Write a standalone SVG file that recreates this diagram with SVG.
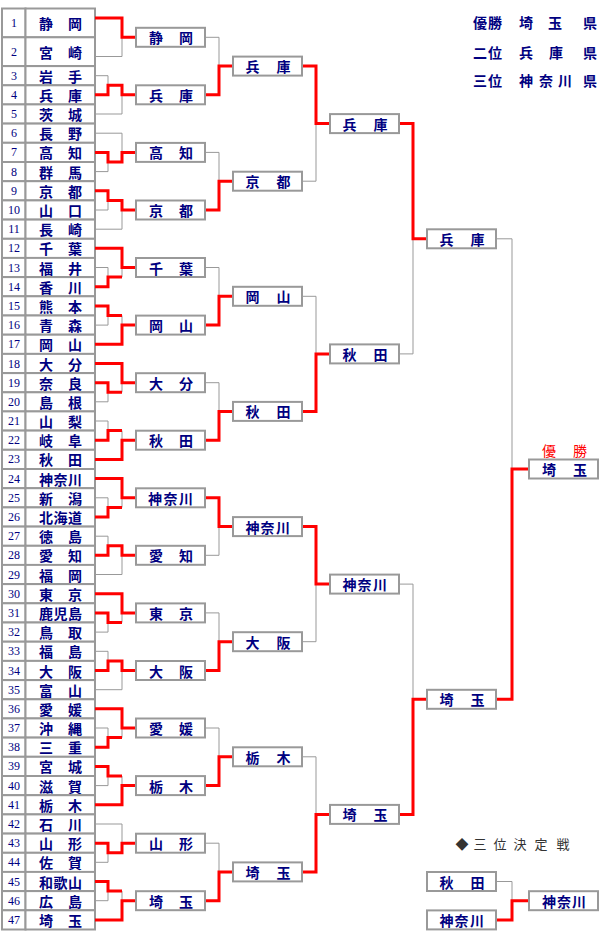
<svg xmlns="http://www.w3.org/2000/svg" width="600" height="940" viewBox="0 0 600 940">
<style>
.c{fill:#fff;stroke:#999;stroke-width:2}
.b{fill:#fff;stroke:#999;stroke-width:2}
.n{font-family:"Liberation Serif",serif;font-size:12px;fill:#000080;text-anchor:middle;dominant-baseline:central}
.j{font-family:"Noto Sans CJK JP",sans-serif;font-size:14px;font-weight:bold;fill:#000080;text-anchor:middle;dominant-baseline:central}
.w{font-family:"Noto Sans CJK JP",sans-serif;font-size:14px;fill:#ff0000;text-anchor:middle;dominant-baseline:central}
.h{font-family:"Noto Sans CJK JP",sans-serif;font-size:13px;fill:#333;text-anchor:middle;dominant-baseline:central}
.g{fill:none;stroke:#999;stroke-width:1}
.r{fill:none;stroke:#f00;stroke-width:3;stroke-linejoin:miter}
</style>
<rect width="600" height="940" fill="#fff"/>
<g id="table">
<g id="t1"><rect class="c" x="2" y="8.5" width="23.5" height="28.8"/><rect class="c" x="25.5" y="8.5" width="69.5" height="28.8"/><text class="n" x="14" y="22.9">1</text><text class="j" x="46 75" y="22.9">静岡</text></g>
<g id="t2"><rect class="c" x="2" y="37.3" width="23.5" height="28.8"/><rect class="c" x="25.5" y="37.3" width="69.5" height="28.8"/><text class="n" x="14" y="51.7">2</text><text class="j" x="46 75" y="51.7">宮崎</text></g>
<g id="t3"><rect class="c" x="2" y="66.1" width="23.5" height="19.2"/><rect class="c" x="25.5" y="66.1" width="69.5" height="19.2"/><text class="n" x="14" y="75.7">3</text><text class="j" x="46 75" y="75.7">岩手</text></g>
<g id="t4"><rect class="c" x="2" y="85.3" width="23.5" height="19.2"/><rect class="c" x="25.5" y="85.3" width="69.5" height="19.2"/><text class="n" x="14" y="94.8">4</text><text class="j" x="46 75" y="94.8">兵庫</text></g>
<g id="t5"><rect class="c" x="2" y="104.4" width="23.5" height="19.2"/><rect class="c" x="25.5" y="104.4" width="69.5" height="19.2"/><text class="n" x="14" y="114">5</text><text class="j" x="46 75" y="114">茨城</text></g>
<g id="t6"><rect class="c" x="2" y="123.6" width="23.5" height="19.2"/><rect class="c" x="25.5" y="123.6" width="69.5" height="19.2"/><text class="n" x="14" y="133.2">6</text><text class="j" x="46 75" y="133.2">長野</text></g>
<g id="t7"><rect class="c" x="2" y="142.8" width="23.5" height="19.2"/><rect class="c" x="25.5" y="142.8" width="69.5" height="19.2"/><text class="n" x="14" y="152.4">7</text><text class="j" x="46 75" y="152.4">高知</text></g>
<g id="t8"><rect class="c" x="2" y="162" width="23.5" height="19.2"/><rect class="c" x="25.5" y="162" width="69.5" height="19.2"/><text class="n" x="14" y="171.6">8</text><text class="j" x="46 75" y="171.6">群馬</text></g>
<g id="t9"><rect class="c" x="2" y="181.2" width="23.5" height="19.2"/><rect class="c" x="25.5" y="181.2" width="69.5" height="19.2"/><text class="n" x="14" y="190.8">9</text><text class="j" x="46 75" y="190.8">京都</text></g>
<g id="t10"><rect class="c" x="2" y="200.4" width="23.5" height="19.2"/><rect class="c" x="25.5" y="200.4" width="69.5" height="19.2"/><text class="n" x="14" y="210">10</text><text class="j" x="46 75" y="210">山口</text></g>
<g id="t11"><rect class="c" x="2" y="219.6" width="23.5" height="19.2"/><rect class="c" x="25.5" y="219.6" width="69.5" height="19.2"/><text class="n" x="14" y="229.2">11</text><text class="j" x="46 75" y="229.2">長崎</text></g>
<g id="t12"><rect class="c" x="2" y="238.8" width="23.5" height="19.2"/><rect class="c" x="25.5" y="238.8" width="69.5" height="19.2"/><text class="n" x="14" y="248.3">12</text><text class="j" x="46 75" y="248.3">千葉</text></g>
<g id="t13"><rect class="c" x="2" y="257.9" width="23.5" height="19.2"/><rect class="c" x="25.5" y="257.9" width="69.5" height="19.2"/><text class="n" x="14" y="267.5">13</text><text class="j" x="46 75" y="267.5">福井</text></g>
<g id="t14"><rect class="c" x="2" y="277.1" width="23.5" height="19.2"/><rect class="c" x="25.5" y="277.1" width="69.5" height="19.2"/><text class="n" x="14" y="286.7">14</text><text class="j" x="46 75" y="286.7">香川</text></g>
<g id="t15"><rect class="c" x="2" y="296.3" width="23.5" height="19.2"/><rect class="c" x="25.5" y="296.3" width="69.5" height="19.2"/><text class="n" x="14" y="305.9">15</text><text class="j" x="46 75" y="305.9">熊本</text></g>
<g id="t16"><rect class="c" x="2" y="315.5" width="23.5" height="19.2"/><rect class="c" x="25.5" y="315.5" width="69.5" height="19.2"/><text class="n" x="14" y="325.1">16</text><text class="j" x="46 75" y="325.1">青森</text></g>
<g id="t17"><rect class="c" x="2" y="334.7" width="23.5" height="19.2"/><rect class="c" x="25.5" y="334.7" width="69.5" height="19.2"/><text class="n" x="14" y="344.3">17</text><text class="j" x="46 75" y="344.3">岡山</text></g>
<g id="t18"><rect class="c" x="2" y="353.9" width="23.5" height="19.2"/><rect class="c" x="25.5" y="353.9" width="69.5" height="19.2"/><text class="n" x="14" y="363.5">18</text><text class="j" x="46 75" y="363.5">大分</text></g>
<g id="t19"><rect class="c" x="2" y="373.1" width="23.5" height="19.2"/><rect class="c" x="25.5" y="373.1" width="69.5" height="19.2"/><text class="n" x="14" y="382.7">19</text><text class="j" x="46 75" y="382.7">奈良</text></g>
<g id="t20"><rect class="c" x="2" y="392.3" width="23.5" height="19.2"/><rect class="c" x="25.5" y="392.3" width="69.5" height="19.2"/><text class="n" x="14" y="401.8">20</text><text class="j" x="46 75" y="401.8">島根</text></g>
<g id="t21"><rect class="c" x="2" y="411.4" width="23.5" height="19.2"/><rect class="c" x="25.5" y="411.4" width="69.5" height="19.2"/><text class="n" x="14" y="421">21</text><text class="j" x="46 75" y="421">山梨</text></g>
<g id="t22"><rect class="c" x="2" y="430.6" width="23.5" height="19.2"/><rect class="c" x="25.5" y="430.6" width="69.5" height="19.2"/><text class="n" x="14" y="440.2">22</text><text class="j" x="46 75" y="440.2">岐阜</text></g>
<g id="t23"><rect class="c" x="2" y="449.8" width="23.5" height="19.2"/><rect class="c" x="25.5" y="449.8" width="69.5" height="19.2"/><text class="n" x="14" y="459.4">23</text><text class="j" x="46 75" y="459.4">秋田</text></g>
<g id="t24"><rect class="c" x="2" y="469" width="23.5" height="19.2"/><rect class="c" x="25.5" y="469" width="69.5" height="19.2"/><text class="n" x="14" y="478.6">24</text><text class="j" x="46 60.5 75" y="478.6">神奈川</text></g>
<g id="t25"><rect class="c" x="2" y="488.2" width="23.5" height="19.2"/><rect class="c" x="25.5" y="488.2" width="69.5" height="19.2"/><text class="n" x="14" y="497.8">25</text><text class="j" x="46 75" y="497.8">新潟</text></g>
<g id="t26"><rect class="c" x="2" y="507.4" width="23.5" height="19.2"/><rect class="c" x="25.5" y="507.4" width="69.5" height="19.2"/><text class="n" x="14" y="517">26</text><text class="j" x="46 60.5 75" y="517">北海道</text></g>
<g id="t27"><rect class="c" x="2" y="526.6" width="23.5" height="19.2"/><rect class="c" x="25.5" y="526.6" width="69.5" height="19.2"/><text class="n" x="14" y="536.2">27</text><text class="j" x="46 75" y="536.2">徳島</text></g>
<g id="t28"><rect class="c" x="2" y="545.8" width="23.5" height="19.2"/><rect class="c" x="25.5" y="545.8" width="69.5" height="19.2"/><text class="n" x="14" y="555.3">28</text><text class="j" x="46 75" y="555.3">愛知</text></g>
<g id="t29"><rect class="c" x="2" y="564.9" width="23.5" height="19.2"/><rect class="c" x="25.5" y="564.9" width="69.5" height="19.2"/><text class="n" x="14" y="574.5">29</text><text class="j" x="46 75" y="574.5">福岡</text></g>
<g id="t30"><rect class="c" x="2" y="584.1" width="23.5" height="19.2"/><rect class="c" x="25.5" y="584.1" width="69.5" height="19.2"/><text class="n" x="14" y="593.7">30</text><text class="j" x="46 75" y="593.7">東京</text></g>
<g id="t31"><rect class="c" x="2" y="603.3" width="23.5" height="19.2"/><rect class="c" x="25.5" y="603.3" width="69.5" height="19.2"/><text class="n" x="14" y="612.9">31</text><text class="j" x="46 60.5 75" y="612.9">鹿児島</text></g>
<g id="t32"><rect class="c" x="2" y="622.5" width="23.5" height="19.2"/><rect class="c" x="25.5" y="622.5" width="69.5" height="19.2"/><text class="n" x="14" y="632.1">32</text><text class="j" x="46 75" y="632.1">鳥取</text></g>
<g id="t33"><rect class="c" x="2" y="641.7" width="23.5" height="19.2"/><rect class="c" x="25.5" y="641.7" width="69.5" height="19.2"/><text class="n" x="14" y="651.3">33</text><text class="j" x="46 75" y="651.3">福島</text></g>
<g id="t34"><rect class="c" x="2" y="660.9" width="23.5" height="19.2"/><rect class="c" x="25.5" y="660.9" width="69.5" height="19.2"/><text class="n" x="14" y="670.5">34</text><text class="j" x="46 75" y="670.5">大阪</text></g>
<g id="t35"><rect class="c" x="2" y="680.1" width="23.5" height="19.2"/><rect class="c" x="25.5" y="680.1" width="69.5" height="19.2"/><text class="n" x="14" y="689.7">35</text><text class="j" x="46 75" y="689.7">富山</text></g>
<g id="t36"><rect class="c" x="2" y="699.3" width="23.5" height="19.2"/><rect class="c" x="25.5" y="699.3" width="69.5" height="19.2"/><text class="n" x="14" y="708.8">36</text><text class="j" x="46 75" y="708.8">愛媛</text></g>
<g id="t37"><rect class="c" x="2" y="718.4" width="23.5" height="19.2"/><rect class="c" x="25.5" y="718.4" width="69.5" height="19.2"/><text class="n" x="14" y="728">37</text><text class="j" x="46 75" y="728">沖縄</text></g>
<g id="t38"><rect class="c" x="2" y="737.6" width="23.5" height="19.2"/><rect class="c" x="25.5" y="737.6" width="69.5" height="19.2"/><text class="n" x="14" y="747.2">38</text><text class="j" x="46 75" y="747.2">三重</text></g>
<g id="t39"><rect class="c" x="2" y="756.8" width="23.5" height="19.2"/><rect class="c" x="25.5" y="756.8" width="69.5" height="19.2"/><text class="n" x="14" y="766.4">39</text><text class="j" x="46 75" y="766.4">宮城</text></g>
<g id="t40"><rect class="c" x="2" y="776" width="23.5" height="19.2"/><rect class="c" x="25.5" y="776" width="69.5" height="19.2"/><text class="n" x="14" y="785.6">40</text><text class="j" x="46 75" y="785.6">滋賀</text></g>
<g id="t41"><rect class="c" x="2" y="795.2" width="23.5" height="19.2"/><rect class="c" x="25.5" y="795.2" width="69.5" height="19.2"/><text class="n" x="14" y="804.8">41</text><text class="j" x="46 75" y="804.8">栃木</text></g>
<g id="t42"><rect class="c" x="2" y="814.4" width="23.5" height="19.2"/><rect class="c" x="25.5" y="814.4" width="69.5" height="19.2"/><text class="n" x="14" y="824">42</text><text class="j" x="46 75" y="824">石川</text></g>
<g id="t43"><rect class="c" x="2" y="833.6" width="23.5" height="19.2"/><rect class="c" x="25.5" y="833.6" width="69.5" height="19.2"/><text class="n" x="14" y="843.2">43</text><text class="j" x="46 75" y="843.2">山形</text></g>
<g id="t44"><rect class="c" x="2" y="852.8" width="23.5" height="19.2"/><rect class="c" x="25.5" y="852.8" width="69.5" height="19.2"/><text class="n" x="14" y="862.3">44</text><text class="j" x="46 75" y="862.3">佐賀</text></g>
<g id="t45"><rect class="c" x="2" y="871.9" width="23.5" height="19.2"/><rect class="c" x="25.5" y="871.9" width="69.5" height="19.2"/><text class="n" x="14" y="881.5">45</text><text class="j" x="46 60.5 75" y="881.5">和歌山</text></g>
<g id="t46"><rect class="c" x="2" y="891.1" width="23.5" height="19.2"/><rect class="c" x="25.5" y="891.1" width="69.5" height="19.2"/><text class="n" x="14" y="900.7">46</text><text class="j" x="46 75" y="900.7">広島</text></g>
<g id="t47"><rect class="c" x="2" y="910.3" width="23.5" height="19.2"/><rect class="c" x="25.5" y="910.3" width="69.5" height="19.2"/><text class="n" x="14" y="919.9">47</text><text class="j" x="46 75" y="919.9">埼玉</text></g>
</g>
<g id="connectors">
<path class="g" d="M95,56.5H122V37.3 M95,75.7H108V85.3 M95,114H122V94.8 M95,171.6H108V162 M95,133.2H122V152.4 M95,210H108V200.4 M95,229.2H122V210 M95,267.5H108V277.1 M122,277.1V267.5 M95,325.1H108V315.5 M122,315.5V325.1 M95,401.8H108V392.3 M122,392.3V382.7 M95,421H108V430.6 M122,430.6V440.2 M95,497.8H108V507.4 M122,507.4V497.8 M95,536.2H108V545.8 M95,574.5H122V555.3 M95,632.1H108V622.5 M122,622.5V612.9 M95,651.3H108V660.9 M95,689.7H122V670.5 M95,728H108V737.6 M122,737.6V728 M95,785.6H108V776 M122,776V785.6 M95,862.3H108V852.8 M95,824H122V843.2 M95,900.7H108V891.1 M122,891.1V900.7"/>
<path class="g" d="M205,37.3H219V66.1 M205,152.4H219V181.2 M205,267.5H219V296.3 M205,382.7H219V411.4 M205,555.3H219V526.6 M205,612.9H219V641.7 M205,728H219V756.8 M205,843.2H219V871.9"/>
<path class="g" d="M302,181.2H316V123.6 M302,296.3H316V353.9 M302,641.7H316V584.1 M302,756.8H316V814.4"/>
<path class="g" d="M399,353.9H413V238.8 M399,584.1H413V699.3 M496,238.8H512V469 M496,881.5H512V900.7"/>
<path class="r" d="M95,18.1H122V37.3H136 M95,94.8H108V85.3H122V94.8H136 M95,152.4H108V162H122V152.4H136 M95,190.8H108V200.4H122V210H136 M95,286.7H108V277.1H122 M95,248.3H122V267.5H136 M95,305.9H108V315.5H122 M95,344.3H122V325.1H136 M95,382.7H108V392.3H122 M95,363.5H122V382.7H136 M95,440.2H108V430.6H122 M95,459.4H122V440.2H136 M95,517H108V507.4H122 M95,478.6H122V497.8H136 M95,555.3H108V545.8H122V555.3H136 M95,612.9H108V622.5H122 M95,593.7H122V612.9H136 M95,670.5H108V660.9H122V670.5H136 M95,747.2H108V737.6H122 M95,708.8H122V728H136 M95,766.4H108V776H122 M95,804.8H122V785.6H136 M95,843.2H108V852.8H122V843.2H136 M95,881.5H108V891.1H122 M95,919.9H122V900.7H136"/>
<path class="r" d="M205,94.8H219V66.1H233 M205,210H219V181.2H233 M205,325.1H219V296.3H233 M205,440.2H219V411.4H233 M205,497.8H219V526.6H233 M205,670.5H219V641.7H233 M205,785.6H219V756.8H233 M205,900.7H219V871.9H233"/>
<path class="r" d="M302,66.1H316V123.6H330 M302,411.4H316V353.9H330 M302,526.6H316V584.1H330 M302,871.9H316V814.4H330"/>
<path class="r" d="M399,123.6H413V238.8H427 M399,814.4H413V699.3H427 M496,699.3H512V469H529 M496,919.9H512V900.7H529"/>
</g>
<g id="r1-1"><rect class="b" x="136" y="27.8" width="69" height="19"/><text class="j" x="156 186" y="37.3">静岡</text></g>
<g id="r1-2"><rect class="b" x="136" y="85.3" width="69" height="19"/><text class="j" x="156 186" y="94.8">兵庫</text></g>
<g id="r1-3"><rect class="b" x="136" y="142.9" width="69" height="19"/><text class="j" x="156 186" y="152.4">高知</text></g>
<g id="r1-4"><rect class="b" x="136" y="200.5" width="69" height="19"/><text class="j" x="156 186" y="210">京都</text></g>
<g id="r1-5"><rect class="b" x="136" y="258" width="69" height="19"/><text class="j" x="156 186" y="267.5">千葉</text></g>
<g id="r1-6"><rect class="b" x="136" y="315.6" width="69" height="19"/><text class="j" x="156 186" y="325.1">岡山</text></g>
<g id="r1-7"><rect class="b" x="136" y="373.2" width="69" height="19"/><text class="j" x="156 186" y="382.7">大分</text></g>
<g id="r1-8"><rect class="b" x="136" y="430.7" width="69" height="19"/><text class="j" x="156 186" y="440.2">秋田</text></g>
<g id="r1-9"><rect class="b" x="136" y="488.3" width="69" height="19"/><text class="j" x="155 170.5 186" y="497.8">神奈川</text></g>
<g id="r1-10"><rect class="b" x="136" y="545.8" width="69" height="19"/><text class="j" x="156 186" y="555.3">愛知</text></g>
<g id="r1-11"><rect class="b" x="136" y="603.4" width="69" height="19"/><text class="j" x="156 186" y="612.9">東京</text></g>
<g id="r1-12"><rect class="b" x="136" y="661" width="69" height="19"/><text class="j" x="156 186" y="670.5">大阪</text></g>
<g id="r1-13"><rect class="b" x="136" y="718.5" width="69" height="19"/><text class="j" x="156 186" y="728">愛媛</text></g>
<g id="r1-14"><rect class="b" x="136" y="776.1" width="69" height="19"/><text class="j" x="156 186" y="785.6">栃木</text></g>
<g id="r1-15"><rect class="b" x="136" y="833.7" width="69" height="19"/><text class="j" x="156 186" y="843.2">山形</text></g>
<g id="r1-16"><rect class="b" x="136" y="891.2" width="69" height="19"/><text class="j" x="156 186" y="900.7">埼玉</text></g>
<g id="r2-1"><rect class="b" x="233" y="56.6" width="69" height="19"/><text class="j" x="252.5 283.5" y="66.1">兵庫</text></g>
<g id="r2-2"><rect class="b" x="233" y="171.7" width="69" height="19"/><text class="j" x="252.5 283.5" y="181.2">京都</text></g>
<g id="r2-3"><rect class="b" x="233" y="286.8" width="69" height="19"/><text class="j" x="252.5 283.5" y="296.3">岡山</text></g>
<g id="r2-4"><rect class="b" x="233" y="401.9" width="69" height="19"/><text class="j" x="252.5 283.5" y="411.4">秋田</text></g>
<g id="r2-5"><rect class="b" x="233" y="517.1" width="69" height="19"/><text class="j" x="252.5 267.5 283" y="526.6">神奈川</text></g>
<g id="r2-6"><rect class="b" x="233" y="632.2" width="69" height="19"/><text class="j" x="252.5 283.5" y="641.7">大阪</text></g>
<g id="r2-7"><rect class="b" x="233" y="747.3" width="69" height="19"/><text class="j" x="252.5 283.5" y="756.8">栃木</text></g>
<g id="r2-8"><rect class="b" x="233" y="862.4" width="69" height="19"/><text class="j" x="252.5 283.5" y="871.9">埼玉</text></g>
<g id="r3-1"><rect class="b" x="330" y="114.1" width="69" height="19"/><text class="j" x="349.5 380.5" y="123.6">兵庫</text></g>
<g id="r3-2"><rect class="b" x="330" y="344.4" width="69" height="19"/><text class="j" x="349.5 380.5" y="353.9">秋田</text></g>
<g id="r3-3"><rect class="b" x="330" y="574.6" width="69" height="19"/><text class="j" x="349.5 364.5 380" y="584.1">神奈川</text></g>
<g id="r3-4"><rect class="b" x="330" y="804.9" width="69" height="19"/><text class="j" x="349.5 380.5" y="814.4">埼玉</text></g>
<g id="r4-1"><rect class="b" x="427" y="229.3" width="69" height="19"/><text class="j" x="446.5 477.5" y="238.8">兵庫</text></g>
<g id="r4-2"><rect class="b" x="427" y="689.8" width="69" height="19"/><text class="j" x="446.5 477.5" y="699.3">埼玉</text></g>
<g id="final"><rect class="b" x="529" y="459.5" width="69" height="19"/><text class="j" x="549 580" y="469">埼玉</text><text class="w" x="549 580" y="449.5">優勝</text></g>
<g id="third-1"><rect class="b" x="427" y="872" width="69" height="19"/><text class="j" x="446.5 477.5" y="881.5">秋田</text></g>
<g id="third-2"><rect class="b" x="427" y="910.4" width="69" height="19"/><text class="j" x="446.5 461.5 477" y="919.9">神奈川</text></g>
<g id="third-win"><rect class="b" x="529" y="891.2" width="69" height="19"/><text class="j" x="549 564 579" y="900.7">神奈川</text></g>
<g id="third-title"><text class="h" x="462 480 500 520 541 563" y="843">◆三位決定戦</text></g>
<g id="legend">
<text class="j" x="480 495 526 555 590" y="22.3">優勝埼玉県</text>
<text class="j" x="480 495 526 556 590" y="51.5">二位兵庫県</text>
<text class="j" x="480 495 526 546 565 590" y="80">三位神奈川県</text>
</g>
</svg>
